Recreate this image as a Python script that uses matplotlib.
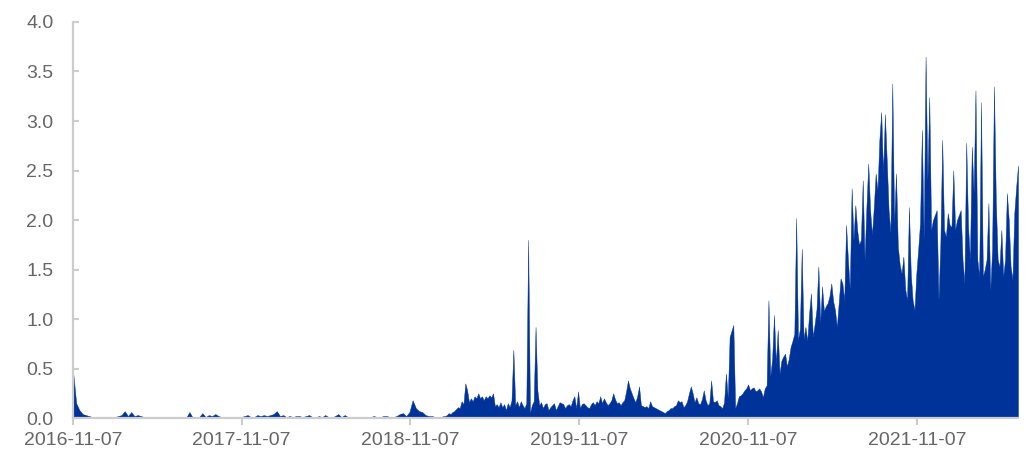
import matplotlib
matplotlib.use("Agg")
import matplotlib.pyplot as plt
from matplotlib.ticker import MultipleLocator, FormatStrFormatter
import numpy as np
import pandas as pd

# ---- data ----
# weekly samples, 2016-11-07 .. 2018-12-31
start_a = "2016-11-07"
values_a = [
    0.48, 0.15, 0.08, 0.04, 0.03, 0.02, 0.01, 0.005, 0.005, 0.005,
    0.01, 0.01, 0.005, 0.01, 0.02, 0.03, 0.07, 0.02, 0.06, 0.02,
    0.03, 0.02, 0.01, 0.005, 0.005, 0.005, 0.005, 0.005, 0.01, 0.01,
    0.005, 0.01, 0.005, 0.005, 0.005, 0.005, 0.06, 0.005, 0.005, 0.01,
    0.05, 0.01, 0.03, 0.02, 0.04, 0.02, 0.01, 0.01, 0.01, 0.005,
    0.005, 0.005, 0.01, 0.02, 0.03, 0.01, 0.01, 0.03, 0.02, 0.03,
    0.02, 0.03, 0.04, 0.07, 0.02, 0.03, 0.01, 0.02, 0.01, 0.02,
    0.02, 0.01, 0.02, 0.03, 0.01, 0.005, 0.02, 0.01, 0.03, 0.01,
    0.005, 0.02, 0.04, 0.01, 0.03, 0.01, 0.005, 0.005, 0.01, 0.005,
    0.01, 0.005, 0.01, 0.02, 0.01, 0.01, 0.02, 0.02, 0.01, 0.01,
    0.02, 0.04, 0.05, 0.02, 0.06, 0.18, 0.10, 0.07, 0.06, 0.03,
    0.02, 0.02, 0.01,
]

# 4-day samples, 2019-01-01 .. 2022-06-14
start_b = "2019-01-01"
values_b = [
    0.01, 0.01, 0.01, 0.01, 0.02, 0.02, 0.03, 0.05, 0.04, 0.06,
    0.07, 0.09, 0.11, 0.10, 0.17, 0.14, 0.35, 0.28, 0.16, 0.20,
    0.17, 0.22, 0.20, 0.25, 0.20, 0.22, 0.18, 0.22, 0.20, 0.23,
    0.21, 0.25, 0.12, 0.14, 0.11, 0.16, 0.11, 0.14, 0.08, 0.15,
    0.11, 0.18, 0.69, 0.13, 0.17, 0.11, 0.17, 0.13, 0.10, 0.15,
    1.80, 0.05, 0.13, 0.17, 0.92, 0.28, 0.13, 0.16, 0.10, 0.14,
    0.15, 0.08, 0.11, 0.13, 0.15, 0.08, 0.12, 0.16, 0.15, 0.14,
    0.10, 0.13, 0.14, 0.12, 0.18, 0.22, 0.10, 0.27, 0.10, 0.14,
    0.15, 0.13, 0.11, 0.10, 0.14, 0.16, 0.13, 0.17, 0.15, 0.22,
    0.15, 0.20, 0.16, 0.13, 0.15, 0.18, 0.25, 0.19, 0.15, 0.16,
    0.13, 0.16, 0.18, 0.27, 0.38, 0.30, 0.25, 0.20, 0.16, 0.22,
    0.32, 0.13, 0.12, 0.11, 0.12, 0.10, 0.17, 0.12, 0.11, 0.10,
    0.09, 0.08, 0.07, 0.06, 0.05, 0.07, 0.08, 0.10, 0.10, 0.12,
    0.13, 0.18, 0.16, 0.17, 0.11, 0.13, 0.17, 0.25, 0.32, 0.25,
    0.16, 0.21, 0.15, 0.14, 0.19, 0.28, 0.18, 0.13, 0.15, 0.38,
    0.17, 0.16, 0.18, 0.13, 0.12, 0.10, 0.16, 0.45, 0.20, 0.82,
    0.88, 0.94, 0.10, 0.15, 0.22, 0.23, 0.25, 0.28, 0.30, 0.34,
    0.28, 0.30, 0.31, 0.27, 0.28, 0.30, 0.27, 0.21, 0.30, 0.33,
    1.19, 0.42, 0.60, 1.04, 0.55, 0.89, 0.45, 0.58, 0.62, 0.65,
    0.52, 0.60, 0.72, 0.78, 0.85, 2.02, 0.79, 0.90, 1.71, 0.80,
    0.92, 0.78, 1.06, 1.26, 0.82, 0.95, 1.10, 1.53, 0.96, 1.33,
    1.08, 1.13, 1.16, 1.23, 1.36, 1.18, 1.09, 0.92, 1.16, 1.41,
    1.36, 1.19, 1.95, 1.60, 1.30, 2.32, 1.80, 2.15, 1.90, 1.75,
    1.80, 2.40, 1.60, 2.13, 2.57, 2.10, 1.85, 2.13, 2.47, 2.30,
    2.81, 3.09, 2.47, 3.07, 2.60, 2.10, 1.87, 3.38, 1.97, 2.47,
    1.73, 1.55, 1.46, 1.63, 1.30, 1.19, 2.13, 1.46, 1.19, 1.09,
    1.46, 1.70, 1.97, 2.91, 1.80, 3.65, 2.40, 3.24, 1.90, 2.00,
    2.05, 2.10, 1.19, 1.76, 2.81, 1.90, 1.83, 2.07, 1.95, 1.93,
    2.50, 1.90, 2.00, 2.05, 2.10, 1.60, 1.36, 2.78, 1.93, 1.60,
    2.74, 2.27, 3.31, 1.60, 1.43, 3.19, 1.43, 1.50, 1.60, 2.17,
    1.29, 1.70, 3.35, 2.20, 1.60, 1.53, 1.90, 1.43, 1.60, 2.27,
    2.00, 1.53, 1.40, 2.07, 2.33, 2.55,
]

tick_dates = ["2016-11-07", "2017-11-07", "2018-11-07",
              "2019-11-07", "2020-11-07", "2021-11-07"]

# ---- build series ----
dates_a = pd.date_range(start_a, periods=len(values_a), freq="7D")
dates_b = pd.date_range(start_b, periods=len(values_b), freq="4D")
dates = dates_a.append(dates_b)
values = np.array(values_a + values_b)

# ---- plot ----
plt.rcParams["font.family"] = ["Liberation Sans", "DejaVu Sans"]
fig = plt.figure(figsize=(10.29, 4.65), dpi=100)
ax = fig.add_axes([0.0709, 0.101, 0.9184, 0.8517])

fill_color = "#003399"
ax.fill_between(dates, values, 0, color=fill_color, linewidth=0.3, edgecolor=fill_color)

ax.set_xlim(dates[0], dates[-1])
ax.set_ylim(0, 4.0)
ax.yaxis.set_major_locator(MultipleLocator(0.5))
ax.yaxis.set_major_formatter(FormatStrFormatter("%.1f"))
ax.set_xticks(pd.to_datetime(tick_dates))
ax.set_xticklabels(tick_dates)

grey = "#cccccc"
for s in ["top", "right"]:
    ax.spines[s].set_visible(False)
for s in ["left", "bottom"]:
    ax.spines[s].set_color(grey)
    ax.spines[s].set_linewidth(1.6)

ax.tick_params(axis="x", direction="out", length=5, width=1.5, color=grey,
               labelsize=14, labelcolor="#666666", pad=5)
ax.tick_params(axis="y", direction="in", length=4, width=1.5, color=grey,
               labelsize=14, labelcolor="#666666", pad=14)

fig.savefig("out.png", dpi=100)
